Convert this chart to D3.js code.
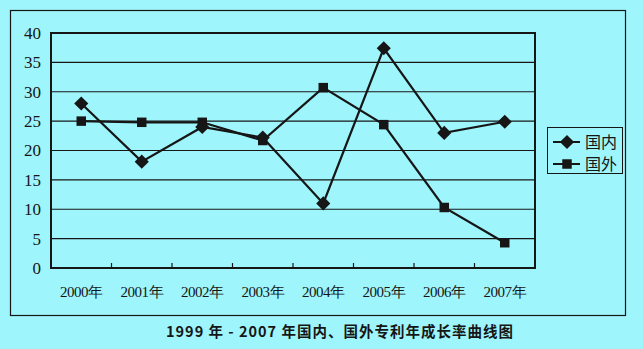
<!DOCTYPE html>
<html><head><meta charset="utf-8">
<script src="https://cdn.jsdelivr.net/npm/d3@7"></script>
<style>html,body{margin:0;padding:0;background:#9ff5fc;}svg{display:block;}</style>
</head><body>
<svg id="c" width="643" height="349"></svg>
<script>
const categories = ["2000年","2001年","2002年","2003年","2004年","2005年","2006年","2007年"];
const domestic = [28, 18.1, 24.0, 22.2, 11.0, 37.4, 23.0, 24.9];
const foreign = [25.0, 24.8, 24.8, 21.7, 30.7, 24.4, 10.3, 4.3];
const yTicks = [0,5,10,15,20,25,30,35,40];
const seriesNames = ["国内","国外"];
const title = "1999 年 - 2007 年国内、国外专利年成长率曲线图";

const svg = d3.select("#c");
const ink = "#161616";
const m = {left:51, top:33, right:535, bottom:268};
// outer frame
svg.append("rect").attr("x",10.5).attr("y",10.5).attr("width",615).attr("height",305)
  .attr("fill","none").attr("stroke",ink).attr("stroke-width",1.2);

const x = d3.scaleBand().domain(categories).range([m.left,m.right]);
const y = d3.scaleLinear().domain([0,40]).range([m.bottom,m.top]);

// gridlines
svg.append("g").selectAll("line").data(yTicks.filter(d=>d>0 && d<40)).join("line")
  .attr("x1",m.left).attr("x2",m.right).attr("y1",d=>y(d)).attr("y2",d=>y(d))
  .attr("stroke",ink).attr("stroke-width",1.2);
// plot border
svg.append("rect").attr("x",m.left).attr("y",m.top).attr("width",m.right-m.left).attr("height",m.bottom-m.top)
  .attr("fill","none").attr("stroke",ink).attr("stroke-width",2);

// y axis labels
const ya = svg.append("g").attr("transform",`translate(${m.left},0)`)
  .call(d3.axisLeft(y).tickValues(yTicks).tickSize(0).tickPadding(10));
ya.select(".domain").remove();
ya.selectAll("text").attr("font-family","Liberation Serif, serif").attr("font-size",17).attr("fill",ink);

// x axis
const xa = svg.append("g").attr("transform",`translate(0,${m.bottom})`)
  .call(d3.axisBottom(x).tickSize(0).tickPadding(18));
xa.select(".domain").remove();
xa.selectAll("text").attr("font-family","Liberation Serif, serif").attr("font-size",15).attr("fill",ink).attr("letter-spacing",-0.5);
// tick marks between categories
svg.append("g").selectAll("line").data(categories.slice(1)).join("line")
  .attr("x1",d=>x(d)).attr("x2",d=>x(d)).attr("y1",m.bottom).attr("y2",m.bottom-5)
  .attr("stroke",ink).attr("stroke-width",1.2);

const line = d3.line().x((d,i)=>x(categories[i])+x.bandwidth()/2).y(d=>y(d));
const diamond = d3.symbol().type(d3.symbolSquare).size(100);
const square = d3.symbol().type(d3.symbolSquare).size(90);

function drawSeries(vals, sym, rot){
  svg.append("path").datum(vals).attr("d",line).attr("fill","none").attr("stroke",ink).attr("stroke-width",2.2);
  svg.append("g").selectAll("path").data(vals).join("path")
    .attr("transform",(d,i)=>`translate(${x(categories[i])+x.bandwidth()/2},${y(d)}) rotate(${rot})`)
    .attr("d",sym).attr("fill",ink);
}
drawSeries(foreign, square, 0);
drawSeries(domestic, diamond, 45);

// legend
const lg = svg.append("g");
lg.append("rect").attr("x",547.5).attr("y",127.5).attr("width",75).attr("height",46)
  .attr("fill","none").attr("stroke",ink).attr("stroke-width",1);
[[diamond,45], [square,0]].forEach(([sym,rot],i)=>{
  const yy = 142 + i*22;
  lg.append("line").attr("x1",553).attr("x2",580).attr("y1",yy).attr("y2",yy).attr("stroke",ink).attr("stroke-width",2);
  lg.append("path").attr("transform",`translate(567,${yy}) rotate(${rot})`).attr("d",sym).attr("fill",ink);
  lg.append("text").attr("x",585).attr("y",yy+6).text(seriesNames[i])
    .attr("font-family","Noto Sans CJK SC, sans-serif").attr("font-size",16).attr("fill",ink);
});

// title
svg.append("text").attr("x",340).attr("y",337).attr("text-anchor","middle").text(title)
  .attr("font-family","Noto Sans CJK SC, sans-serif").attr("font-weight","bold").attr("font-size",14.5).attr("letter-spacing",1).attr("fill",ink);
</script>
</body></html>
